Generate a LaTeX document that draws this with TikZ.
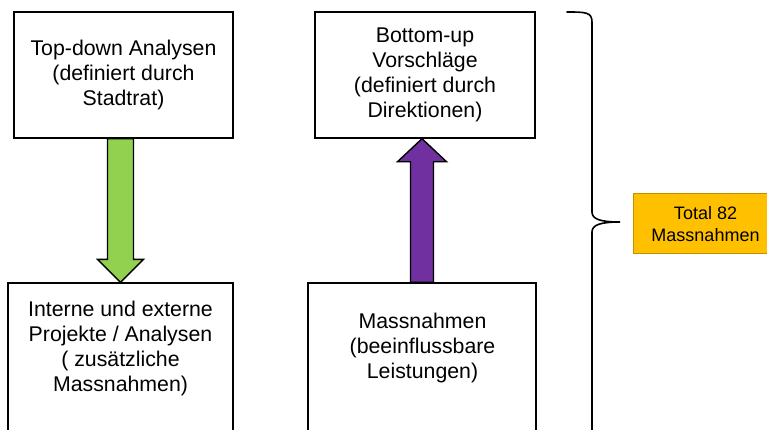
\documentclass[tikz,border=0pt]{standalone}
\usepackage{fontspec}
\setmainfont{Liberation Sans}
\usetikzlibrary{calc}
\definecolor{agreen}{HTML}{92D050}
\definecolor{apurple}{HTML}{7030A0}
\definecolor{aorange}{HTML}{FFC000}
\definecolor{aorangeb}{HTML}{C09000}
\begin{document}
\begin{tikzpicture}[x=1pt,y=-1pt,
  box/.style={draw=black,line width=1.4pt,fill=white,rectangle,inner sep=0pt},
  txt/.style={align=center,font=\fontsize{21.3}{24.8}\selectfont,inner sep=0pt},
  arr/.style={draw=black,line width=1.4pt,line join=miter}]
\useasboundingbox (0,0) rectangle (767,429);
\fill[white] (0,0) rectangle (767,429);
\begin{scope}
\clip (0,0) rectangle (767,429);
% boxes
\node[box,minimum width=219pt,minimum height=126pt] (tl) at (123.5,75) {};
\node[box,minimum width=220pt,minimum height=126pt] (tr) at (425,75) {};
\node[box,minimum width=225pt,minimum height=170pt] (bl) at (120.5,368) {};
\node[box,minimum width=228pt,minimum height=170pt] (br) at (422,368) {};
% texts
\node[txt] (tlt) at (tl) {Top-down Analysen\\(definiert durch\\Stadtrat)};
\node[txt] (trt) at (tr) {Bottom-up\\Vorschläge\\(definiert durch\\Direktionen)};
\node[txt] (blt) at (120.5,348.5) {Interne und externe\\Projekte / Analysen\\( zusätzliche\\Massnahmen)};
\node[txt] (brt) at (422.5,348) {Massnahmen\\(beeinflussbare\\Leistungen)};
% green arrow (down)
\coordinate (gtop) at (tl.south -| bl.north);
\draw[arr,fill=agreen]
  ($(gtop)+(-13,0)$) -- ($(bl.north)+(-13,-23)$) -- ($(bl.north)+(-23,-23)$)
  -- (bl.north) -- ($(bl.north)+(23,-23)$) -- ($(bl.north)+(13,-23)$)
  -- ($(gtop)+(13,0)$) -- cycle;
% purple arrow (up)
\coordinate (ptip) at (tr.south -| br.north);
\draw[arr,fill=apurple]
  ($(br.north)+(-11.5,0)$) -- ($(ptip)+(-11.5,23)$) -- ($(ptip)+(-24.5,23)$)
  -- (ptip) -- ($(ptip)+(24.5,23)$) -- ($(ptip)+(11.5,23)$)
  -- ($(br.north)+(11.5,0)$) -- cycle;
% brace
\draw[line width=1.6pt,line cap=round]
  (567,12) .. controls (585,12) and (592,12) .. (592,22) -- (592,212)
  .. controls (592,219) and (600,222) .. (620,222)
  .. controls (600,222) and (592,225) .. (592,232) -- (592,440);
% total box
\node[draw=aorangeb,fill=aorange,line width=1pt,minimum width=140pt,minimum height=60pt,inner sep=0pt] (tot) at (703.5,223) {};
\end{scope}
\node[align=center,inner sep=0pt,font=\fontsize{18}{21.6}\selectfont] (tott) at (705.5,224) {Total 82\\Massnahmen};
\end{tikzpicture}
\end{document}
